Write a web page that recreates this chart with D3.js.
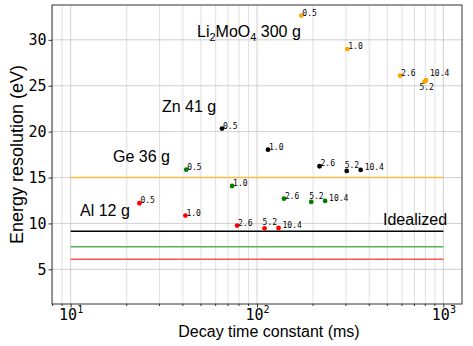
<!DOCTYPE html>
<html>
<head>
<meta charset="utf-8">
<script src="https://cdn.jsdelivr.net/npm/d3@7"></script>
<style>
  body { margin: 0; background: #fff; }
  svg { display: block; }
  .tick text { font-family: "DejaVu Sans Mono", monospace; font-size: 15px; fill: #000; }
  .lbl { font-family: "Liberation Sans", Arial, sans-serif; font-size: 16px; fill: #000; }
  .ann { font-family: "DejaVu Sans Mono", monospace; font-size: 8px; fill: #000; }
</style>
</head>
<body>
<svg></svg>
<script>
let width = 473;
let height = 346;
let margin = { top: 5, right: 11, bottom: 42, left: 52 };

// decay time constant (ms) and energy resolution (eV) for each load
let loadLabels = ['0.5', '1.0', '2.6', '5.2', '10.4'];

let liTau = [173, 305, 586, 791, 807];
let liRes = [32.65, 29.0, 26.1, 25.45, 25.6];

let znTau = [64.9, 114.6, 216.6, 303, 360];
let znRes = [20.33, 18.04, 16.23, 15.72, 15.83];

let geTau = [41.7, 73.5, 139.5, 195.4, 232];
let geRes = [15.86, 14.08, 12.7, 12.34, 12.45];

let alTau = [23.4, 41.3, 78.2, 109.8, 130.5];
let alRes = [12.2, 10.85, 9.76, 9.47, 9.5];

// idealized resolution levels, drawn from 10 ms to 1000 ms
let idealRange = [10, 1000];
let idealLevels = [15.0, 9.15, 7.47, 6.09];
let idealColors = ['#fbbc4c', '#000000', '#55b455', '#f55555'];

let seriesNames = ['Li2MoO4 300 g', 'Zn 41 g', 'Ge 36 g', 'Al 12 g'];
let seriesColors = ['orange', 'black', 'green', 'red'];

let xTicks = [10, 100, 1000];
let yTicks = [5, 10, 15, 20, 25, 30];

let series = [
  { name: seriesNames[0], color: seriesColors[0], tau: liTau, res: liRes },
  { name: seriesNames[1], color: seriesColors[1], tau: znTau, res: znRes },
  { name: seriesNames[2], color: seriesColors[2], tau: geTau, res: geRes },
  { name: seriesNames[3], color: seriesColors[3], tau: alTau, res: alRes },
];

let svg = d3.select('svg').attr('width', width).attr('height', height);

let x = d3.scaleLog()
  .domain([Math.pow(10, 0.9), Math.pow(10, 3.1)])
  .range([margin.left, width - margin.right]);

let y = d3.scaleLinear()
  .domain([1.22, 33.8])
  .range([height - margin.bottom, margin.top]);

// grid: minor x lines, then major lines
let minorX = [];
for (let d = 1; d <= 1000; d *= 10) {
  for (let k = 2; k <= 9; k++) {
    let v = k * d;
    if (v >= x.domain()[0] && v <= x.domain()[1]) minorX.push(v);
  }
}

let grid = svg.append('g');
grid.selectAll('.gminor')
  .data(minorX)
  .enter()
  .append('line')
  .attr('x1', (d) => x(d))
  .attr('x2', (d) => x(d))
  .attr('y1', margin.top)
  .attr('y2', height - margin.bottom)
  .attr('stroke', '#d8d8d8')
  .attr('stroke-width', 0.8);

grid.selectAll('.gx')
  .data(xTicks)
  .enter()
  .append('line')
  .attr('x1', (d) => x(d))
  .attr('x2', (d) => x(d))
  .attr('y1', margin.top)
  .attr('y2', height - margin.bottom)
  .attr('stroke', '#c4c4c4')
  .attr('stroke-width', 0.8);

grid.selectAll('.gy')
  .data(yTicks)
  .enter()
  .append('line')
  .attr('x1', margin.left)
  .attr('x2', width - margin.right)
  .attr('y1', (d) => y(d))
  .attr('y2', (d) => y(d))
  .attr('stroke', '#c4c4c4')
  .attr('stroke-width', 0.8);

// idealized lines
svg.selectAll('.ideal')
  .data(idealLevels)
  .enter()
  .append('line')
  .attr('x1', x(idealRange[0]))
  .attr('x2', x(idealRange[1]))
  .attr('y1', (d) => y(d))
  .attr('y2', (d) => y(d))
  .attr('stroke', (d, i) => idealColors[i])
  .attr('stroke-width', 1.5);

// points and their load annotations
let nudge = {
  'Li2MoO4 300 g': { '5.2': [-5, 8], '10.4': [4, -4] },
  default: { '5.2': [-2, -3], '10.4': [4, 0] },
};

function offset(s, label) {
  return (nudge[s.name] || {})[label] || nudge.default[label] || [1, 0];
}

series.forEach((s) => {
  let pts = s.tau.map((t, i) => ({ t: t, r: s.res[i], label: loadLabels[i] }));
  let g = svg.append('g');
  g.selectAll('circle')
    .data(pts)
    .enter()
    .append('circle')
    .attr('cx', (d) => x(d.t))
    .attr('cy', (d) => y(d.r))
    .attr('r', 2.4)
    .attr('fill', s.color);
  g.selectAll('text')
    .data(pts)
    .enter()
    .append('text')
    .attr('class', 'ann')
    .attr('x', (d) => x(d.t) + offset(s, d.label)[0])
    .attr('y', (d) => y(d.r) + offset(s, d.label)[1])
    .text((d) => d.label);
});

// series names
let nameAt = [
  { x: 197, y: 37 },
  { x: 162, y: 112 },
  { x: 113, y: 162 },
  { x: 80, y: 216 },
];
series.forEach((s, i) => {
  let t = svg.append('text')
    .attr('class', 'lbl')
    .attr('x', nameAt[i].x)
    .attr('y', nameAt[i].y);
  if (s.name.startsWith('Li2MoO4')) {
    t.append('tspan').text('Li');
    t.append('tspan').attr('dy', 4).style('font-size', '11px').text('2');
    t.append('tspan').attr('dy', -4).text('MoO');
    t.append('tspan').attr('dy', 4).style('font-size', '11px').text('4');
    t.append('tspan').attr('dy', -4).text(' 300 g');
  } else {
    t.text(s.name);
  }
});

svg.append('text')
  .attr('class', 'lbl')
  .attr('x', 383)
  .attr('y', 225)
  .text('Idealized');

// axes
let xAxis = svg.append('g')
  .attr('transform', `translate(0,${height - margin.bottom})`)
  .call(d3.axisBottom(x).tickValues(xTicks).tickSize(3.5).tickFormat(''));

xAxis.selectAll('.tick')
  .append('text')
  .attr('y', 16)
  .attr('text-anchor', 'middle')
  .each(function (d) {
    let t = d3.select(this);
    t.append('tspan').text('10');
    t.append('tspan').attr('dy', -7).style('font-size', '10px').text(String(Math.round(Math.log10(d))));
  });

svg.append('g')
  .attr('transform', `translate(0,${height - margin.bottom})`)
  .selectAll('line')
  .data(minorX)
  .enter()
  .append('line')
  .attr('x1', (d) => x(d))
  .attr('x2', (d) => x(d))
  .attr('y1', 0)
  .attr('y2', 2)
  .attr('stroke', '#333');

svg.append('g')
  .attr('transform', `translate(${margin.left},0)`)
  .call(d3.axisLeft(y).tickValues(yTicks).tickSize(3.5).tickPadding(2));

svg.selectAll('.domain').remove();
svg.selectAll('.tick line').attr('stroke', '#333');

svg.append('rect')
  .attr('x', margin.left)
  .attr('y', margin.top)
  .attr('width', width - margin.left - margin.right)
  .attr('height', height - margin.top - margin.bottom)
  .attr('fill', 'none')
  .attr('stroke', '#333')
  .attr('stroke-width', 1);

svg.append('text')
  .attr('class', 'lbl')
  .attr('x', (margin.left + width - margin.right) / 2 + 12)
  .attr('y', 337)
  .attr('text-anchor', 'middle')
  .text('Decay time constant (ms)');

svg.append('text')
  .attr('class', 'lbl')
  .style('font-size', '18px')
  .attr('transform', `translate(23,${(margin.top + height - margin.bottom) / 2}) rotate(-90)`)
  .attr('text-anchor', 'middle')
  .text('Energy resolution (eV)');
</script>
</body>
</html>
